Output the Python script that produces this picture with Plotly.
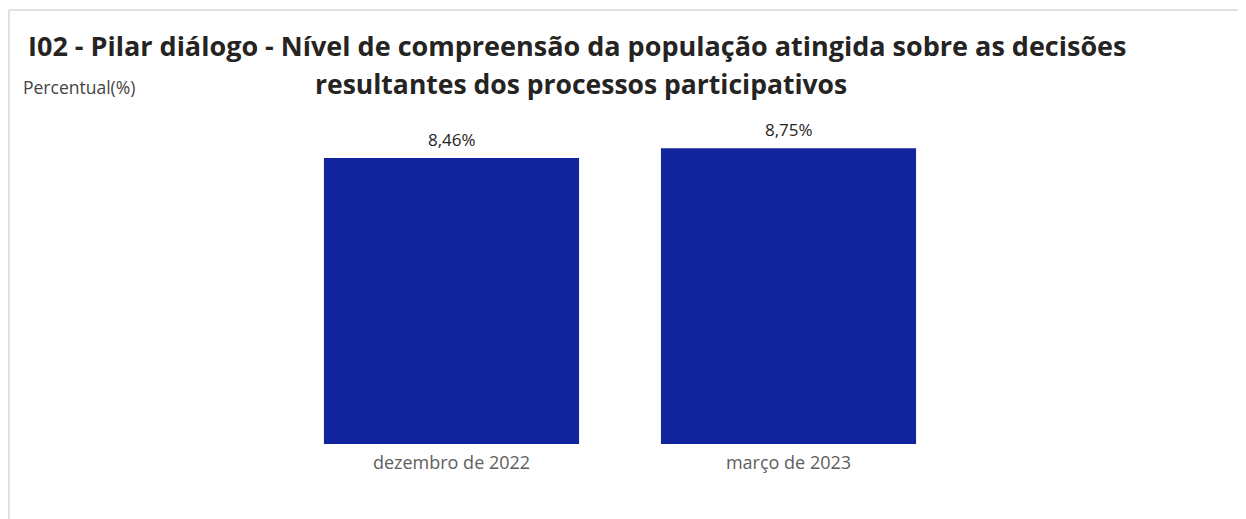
import plotly.graph_objects as go

W, H = 1246, 519
OFF = 8  # default body margin of the page

periodos = ["dezembro de 2022", "março de 2023"]
percentual = [8.46, 8.75]
rotulos = ["8,46%", "8,75%"]

titulo_l1 = "I02 - Pilar diálogo - Nível de compreensão da população atingida sobre as decisões"
titulo_l2 = "resultantes dos processos participativos"

FW, FH = W - OFF, H - OFF
# plot area (figure pixels)
L, R, T, B = 283 - OFF, 289, 106 - OFF, 75
pw, ph = FW - L - R, FH - T - B


def px_x(x):
    return (x - OFF - L) / pw


def px_y(y):
    return (FH - B - (y - OFF)) / ph


fig = go.Figure(go.Bar(
    x=periodos, y=percentual, marker_color="#12239E", marker_line_width=0, showlegend=False,
))

# data labels above bars
for p, v, r in zip(periodos, percentual, rotulos):
    fig.add_annotation(x=p, y=v, text=r, showarrow=False, yanchor="bottom", yshift=5,
                       font=dict(size=17, color="#252423"))

fig.add_annotation(text="<b>" + titulo_l1 + "</b>", x=px_x(577), y=px_y(45), xref="paper", yref="paper",
                   xanchor="center", yanchor="middle", showarrow=False, font=dict(size=27, color="#252423"))
fig.add_annotation(text="<b>" + titulo_l2 + "</b>", x=px_x(581), y=px_y(84), xref="paper", yref="paper",
                   xanchor="center", yanchor="middle", showarrow=False, font=dict(size=26.5, color="#252423"))
fig.add_annotation(text="Percentual(%)", x=px_x(21), y=px_y(87), xref="paper", yref="paper",
                   xanchor="left", yanchor="middle", showarrow=False, font=dict(size=17.5, color="#444444"))

fig.update_layout(
    width=FW, height=FH,
    margin=dict(l=L, r=R, t=T, b=B),
    paper_bgcolor="white", plot_bgcolor="white",
    font=dict(family="Open Sans", color="#252423"),
    bargap=0.243,
    xaxis=dict(showgrid=False, showline=False, ticks="", ticklabelstandoff=6,
               tickfont=dict(size=18, color="#605E5C")),
    yaxis=dict(range=[0, 10], visible=False),
    shapes=[
        dict(type="line", xref="paper", yref="paper", x0=px_x(OFF + 1), x1=px_x(W + 10), y0=px_y(10), y1=px_y(10),
             line=dict(color="#E1E1E1", width=2)),
        dict(type="line", xref="paper", yref="paper", x0=px_x(OFF + 1), x1=px_x(OFF + 1), y0=px_y(10), y1=px_y(H + 10),
             line=dict(color="#E1E1E1", width=2)),
    ],
)

fig.write_html("out.html")
